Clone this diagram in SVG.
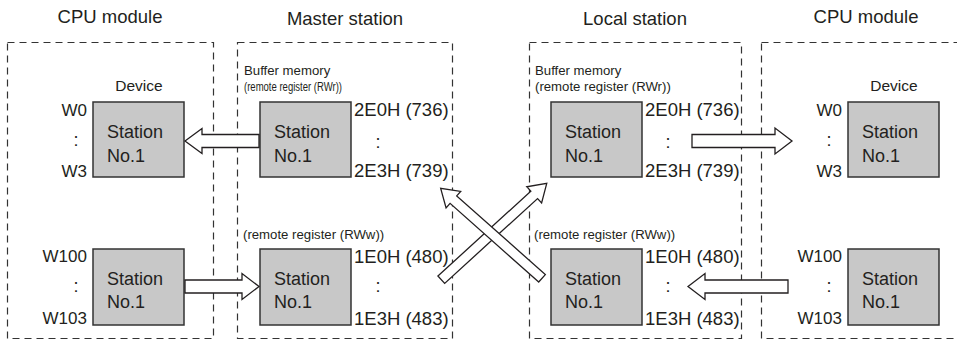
<svg xmlns="http://www.w3.org/2000/svg" width="957" height="340" viewBox="0 0 957 340">
<style>
text{font-family:"Liberation Sans",Arial,sans-serif;fill:#231f20}
.title{font-size:18.5px;text-anchor:middle}
.dev{font-size:15.5px;text-anchor:middle}
.st{font-size:18px}
.w{font-size:17px;text-anchor:end}
.hex{font-size:18.5px}
.dots{font-size:18px;text-anchor:middle}
.sm{font-size:13.2px}
.frame{fill:none;stroke:#333;stroke-width:1.2;stroke-dasharray:7 5}
.box{fill:#c8c8c8;stroke:#333;stroke-width:1.5}
.arr{fill:#fff;stroke:#231f20;stroke-width:1.3;stroke-linejoin:miter}
</style>
<g id="frames">
<rect class="frame" x="7.5" y="42.5" width="206" height="296"/>
<rect class="frame" x="237.5" y="42.5" width="215" height="296"/>
<rect class="frame" x="529.5" y="42.5" width="212" height="296"/>
<rect class="frame" x="761.5" y="42.5" width="230" height="296"/>
</g>
<g id="titles">
<text class="title" x="110" y="23">CPU module</text>
<text class="title" x="345" y="25">Master station</text>
<text class="title" x="635" y="25">Local station</text>
<text class="title" x="866" y="23">CPU module</text>
</g>
<g id="cpu1-top">
<text class="dev" x="139" y="90.5">Device</text>
<rect class="box" x="93" y="102" width="91" height="75"/>
<text class="st" x="107" y="138">Station</text>
<text class="st" x="107" y="162">No.1</text>
<text class="w" x="87" y="115.5">W0</text>
<text class="dots" x="76" y="146">:</text>
<text class="w" x="87" y="177">W3</text>
</g>
<g id="cpu1-bottom">
<rect class="box" x="93" y="249" width="91" height="76"/>
<text class="st" x="107" y="285">Station</text>
<text class="st" x="107" y="308">No.1</text>
<text class="w" x="87" y="262">W100</text>
<text class="dots" x="76" y="292">:</text>
<text class="w" x="87" y="323.5">W103</text>
</g>
<g id="master-top">
<text class="sm" x="244" y="75">Buffer memory</text>
<text class="sm" x="244" y="90.5" textLength="98" lengthAdjust="spacingAndGlyphs">(remote register (RWr))</text>
<rect class="box" x="260" y="102" width="91" height="75"/>
<text class="st" x="274" y="138">Station</text>
<text class="st" x="274" y="162">No.1</text>
<text class="hex" x="354" y="115.5">2E0H (736)</text>
<text class="dots" x="378" y="148">:</text>
<text class="hex" x="354" y="177">2E3H (739)</text>
</g>
<g id="master-bottom">
<text class="sm" x="243" y="238.5">(remote register (RWw))</text>
<rect class="box" x="260" y="249" width="91" height="76"/>
<text class="st" x="274" y="285">Station</text>
<text class="st" x="274" y="308">No.1</text>
<text class="hex" x="354" y="263">1E0H (480)</text>
<text class="dots" x="378" y="292">:</text>
<text class="hex" x="354" y="325">1E3H (483)</text>
</g>
<g id="local-top">
<text class="sm" x="535" y="75">Buffer memory</text>
<text class="sm" x="535" y="90.5">(remote register (RWr))</text>
<rect class="box" x="551" y="102" width="91" height="75"/>
<text class="st" x="565" y="138">Station</text>
<text class="st" x="565" y="162">No.1</text>
<text class="hex" x="645" y="115.5">2E0H (736)</text>
<text class="dots" x="668" y="148">:</text>
<text class="hex" x="645" y="177">2E3H (739)</text>
</g>
<g id="local-bottom">
<text class="sm" x="534" y="238.5">(remote register (RWw))</text>
<rect class="box" x="551" y="249" width="91" height="76"/>
<text class="st" x="565" y="285">Station</text>
<text class="st" x="565" y="308">No.1</text>
<text class="hex" x="645" y="263">1E0H (480)</text>
<text class="dots" x="668" y="292">:</text>
<text class="hex" x="645" y="325">1E3H (483)</text>
</g>
<g id="cpu2-top">
<text class="dev" x="894" y="90.5">Device</text>
<rect class="box" x="848" y="102" width="91" height="75"/>
<text class="st" x="862" y="138">Station</text>
<text class="st" x="862" y="162">No.1</text>
<text class="w" x="842" y="115.5">W0</text>
<text class="dots" x="829" y="146">:</text>
<text class="w" x="842" y="177">W3</text>
</g>
<g id="cpu2-bottom">
<rect class="box" x="848" y="249" width="91" height="76"/>
<text class="st" x="862" y="285">Station</text>
<text class="st" x="862" y="308">No.1</text>
<text class="w" x="842" y="262">W100</text>
<text class="dots" x="829" y="292">:</text>
<text class="w" x="842" y="323.5">W103</text>
</g>
<g id="connectors">
<polygon class="arr" points="185,141 202,128.5 202,134.5 259,134.5 259,147.5 202,147.5 202,153.5"/>
<polygon class="arr" points="185,280 242,280 242,273.5 259,286.5 242,299.5 242,293 185,293"/>
<polygon class="arr" points="692,134.5 775,134.5 775,128 792,141 775,154 775,147.5 692,147.5"/>
<polygon class="arr" points="688,286.5 705,273.5 705,280 788,280 788,293 705,293 705,299.5"/>
<polygon class="arr" transform="translate(441.3,279.7) rotate(-42.4)" points="0,-5 125.8,-5 125.8,-11 142.8,0 125.8,11 125.8,5 0,5"/>
<polygon class="arr" transform="translate(542,278.3) rotate(-138.4)" points="0,-5 118.5,-5 118.5,-11 135.5,0 118.5,11 118.5,5 0,5"/>
</g>
</svg>
